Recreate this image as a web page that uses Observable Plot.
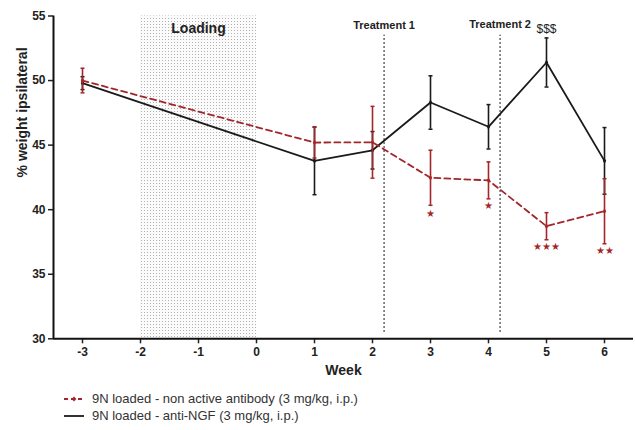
<!DOCTYPE html>
<html>
<head>
<meta charset="utf-8">
<script src="https://cdn.jsdelivr.net/npm/d3@7"></script>
<script src="https://cdn.jsdelivr.net/npm/@observablehq/plot@0.6"></script>
<style>
  body { margin: 0; background: #fff; font-family: "Liberation Sans", Arial, sans-serif; }
  #legend { margin-left: 63px; margin-top: 10px; color: #333; font-size: 13px; }
  .row { height: 17px; display: flex; align-items: center; }
  .row svg { margin-right: 7px; }
</style>
</head>
<body>
<div id="chart"></div>
<div id="legend"></div>
<script>
const weeks = [-3, 1, 2, 3, 4, 5, 6];
const ctrlMean = [50.0, 45.2, 45.22, 42.47, 42.27, 38.72, 39.88];
const ctrlErr  = [0.95, 1.2, 2.78, 2.13, 1.43, 1.05, 2.52];
const ngfMean  = [49.8, 43.78, 44.6, 48.3, 46.42, 51.4, 43.78];
const ngfErr   = [0.5, 2.62, 1.45, 2.07, 1.72, 1.9, 2.58];
const sigWeeks = [3, 4, 5, 6];
const sigLabels = ["★", "★", "★★★", "★★"];
const sigY = [39.7, 40.25, 37.15, 36.8];
const dollarWeek = [5];
const dollarLabel = ["$$$"];
const dollarY = [54.0];
const treatmentWeeks = [2.2, 4.2];
const treatmentLabels = ["Treatment 1", "Treatment 2"];
const treatmentLabelY = [54.26, 54.34];
const loadingStart = -2, loadingEnd = 0;
const xTicks = [-3, -2, -1, 0, 1, 2, 3, 4, 5, 6];
const yTicks = [30, 35, 40, 45, 50, 55];
const seriesNames = ["9N loaded - non active antibody (3 mg/kg, i.p.)", "9N loaded - anti-NGF (3 mg/kg, i.p.)"];

const RED = "#a3262a";
const BLK = "#1a1a1a";

const ctrl = weeks.map((w, i) => ({week: w, mean: ctrlMean[i], lo: ctrlMean[i] - ctrlErr[i], hi: ctrlMean[i] + ctrlErr[i]}));
const ngf = weeks.map((w, i) => ({week: w, mean: ngfMean[i], lo: ngfMean[i] - ngfErr[i], hi: ngfMean[i] + ngfErr[i]}));
const sig = sigWeeks.map((w, i) => ({week: w, label: sigLabels[i], y: sigY[i]}));
const dollars = dollarWeek.map((w, i) => ({week: w, label: dollarLabel[i], y: dollarY[i]}));
const treat = treatmentWeeks.map((w, i) => ({week: w, label: treatmentLabels[i], y: treatmentLabelY[i]}));

const cap = {draw(ctx, size) { const r = Math.sqrt(size / Math.PI); ctx.moveTo(-r, 0); ctx.lineTo(r, 0); }};

function series(data, color, dash) {
  return [
    Plot.line(data, {x: "week", y: "mean", stroke: color, strokeWidth: 1.8, strokeDasharray: dash}),
    Plot.ruleX(data, {x: "week", y1: "lo", y2: "hi", stroke: color, strokeWidth: 1.6}),
    Plot.dot(data, {x: "week", y: "lo", symbol: cap, r: 2, fill: "none", stroke: color, strokeWidth: 1.5}),
    Plot.dot(data, {x: "week", y: "hi", symbol: cap, r: 2, fill: "none", stroke: color, strokeWidth: 1.5}),
    Plot.dot(data, {x: "week", y: "mean", symbol: "diamond", r: 1.8, fill: color, stroke: "none"})
  ];
}

const chart = Plot.plot({
  width: 635,
  height: 380,
  marginLeft: 53,
  marginRight: 2,
  marginTop: 15.5,
  marginBottom: 41.7,
  style: {fontFamily: "'Liberation Sans', Arial, sans-serif", color: "#222", background: "#fff"},
  x: {domain: [-3.5, 6.5]},
  y: {domain: [30, 55]},
  marks: [
    Plot.rect([{a: loadingStart, b: loadingEnd}], {x1: "a", x2: "b", fill: "url(#dots)"}),
    Plot.text(["Loading"], {x: (loadingStart + loadingEnd) / 2, y: 54.0, text: d => d, fontWeight: "bold", fontSize: 14, fill: "#222"}),
    Plot.ruleX(treat, {x: "week", y1: 30.5, y2: 53.5, stroke: "#333", strokeWidth: 1.5, strokeDasharray: "1.5,2.5"}),
    Plot.text(treat, {x: "week", y: "y", text: "label", fontWeight: "bold", fontSize: 11, fill: "#222"}),
    Plot.axisY({ticks: yTicks, tickFormat: d => String(d), tickSize: 5, tickPadding: 3, fontSize: 12, fontWeight: "bold", strokeWidth: 1.5, label: null}),
    Plot.axisX({ticks: xTicks, tickFormat: d => String(d), tickSize: 5, tickPadding: 4, fontSize: 12, fontWeight: "bold", strokeWidth: 1.5, label: null}),
    Plot.text(["% weight ipsilateral"], {frameAnchor: "left", dx: -31, dy: 0, rotate: -90, text: d => d, fontWeight: "bold", fontSize: 14, fill: "#222"}),
    Plot.text(["Week"], {frameAnchor: "bottom", dy: 36, text: d => d, fontWeight: "bold", fontSize: 14, fill: "#222"}),
    Plot.ruleX([-3.5], {y1: 30, y2: 55, stroke: "#111", strokeWidth: 2}),
    Plot.ruleY([30], {stroke: "#111", strokeWidth: 2}),
    ...series(ngf, BLK, null),
    ...series(ctrl, RED, "6,4"),
    Plot.text(sig, {x: "week", y: "y", text: "label", fill: RED, fontSize: 9.5}),
    Plot.text(dollars, {x: "week", y: "y", text: "label", fill: "#222", fontSize: 12})
  ]
});

const defs = d3.select(chart).insert("defs", ":first-child");
const pat = defs.append("pattern").attr("id", "dots").attr("width", 3).attr("height", 3).attr("patternUnits", "userSpaceOnUse");
pat.append("rect").attr("width", 3).attr("height", 3).attr("fill", "#fbfbfb");
pat.append("rect").attr("width", 1).attr("height", 1).attr("fill", "#b0b0b0");

document.getElementById("chart").appendChild(chart);

const legend = document.getElementById("legend");
const sw = [
  `<svg width="22" height="10"><line x1="1" y1="5" x2="21" y2="5" stroke="${RED}" stroke-width="1.8" stroke-dasharray="4,3"/><path d="M11,2.6L13.4,5L11,7.4L8.6,5Z" fill="${RED}"/></svg>`,
  `<svg width="22" height="10"><line x1="1" y1="5" x2="21" y2="5" stroke="${BLK}" stroke-width="1.8"/></svg>`
];
seriesNames.forEach((n, i) => {
  const row = document.createElement("div");
  row.className = "row";
  row.innerHTML = sw[i] + `<span>${n}</span>`;
  legend.appendChild(row);
});
</script>
</body>
</html>
